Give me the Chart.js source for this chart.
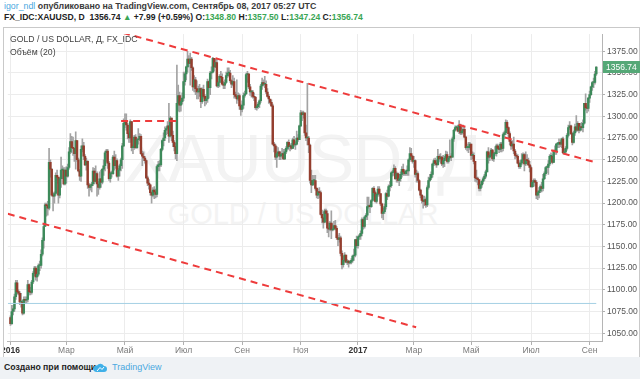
<!DOCTYPE html>
<html><head><meta charset="utf-8">
<script src="https://cdn.jsdelivr.net/npm/chart.js@4.4.1/dist/chart.umd.min.js"></script>
<style>
html,body{margin:0;padding:0;}
body{width:640px;height:379px;position:relative;overflow:hidden;background:#fff;font-family:'Liberation Sans',Arial,sans-serif;}
.hdr1{position:absolute;left:4px;top:1px;font-size:8.8px;line-height:10px;color:#3a3a3a;white-space:nowrap;font-weight:bold;}
.hdr1 .user{color:#4aa8e0;font-weight:normal;}
.hdr2{position:absolute;left:4px;top:12px;font-size:8.6px;line-height:10px;color:#222;font-weight:bold;white-space:nowrap;}
.g{color:#3aa655;}
#frame{position:absolute;left:3px;top:27px;width:635px;height:329px;border:1px solid #c9c9c9;background:#fff;}
.wm{position:absolute;left:4px;width:598px;text-align:center;color:#f3f3f3;white-space:nowrap;}
.wm1{top:118px;font-size:68px;line-height:80px;letter-spacing:-1px;}
.wm2{top:196px;font-size:29px;line-height:36px;}
#clip{position:absolute;left:4px;top:27px;width:636px;height:330px;overflow:hidden;}
#cv{position:absolute;left:-4px;top:0;}
.leg{position:absolute;left:10px;font-size:8.7px;color:#444;white-space:nowrap;}
.footer{position:absolute;left:0;top:357px;width:640px;height:22px;background:#eff2f5;}
.ft1{position:absolute;left:4px;top:5px;font-size:8.7px;font-weight:bold;color:#222;}
.ft2{position:absolute;left:112px;top:5px;font-size:9px;color:#4aa8e0;}
.logo{position:absolute;left:93px;top:5px;}
</style></head>
<body>
<div class="hdr1"><span class="user">igor_ndl</span> опубликовано на TradingView.com, Сентябрь 08, 2017 05:27 UTC</div>
<div class="hdr2">FX_IDC:XAUUSD, D&nbsp; 1356.74 <span class="g">▲</span> +7.99 (+0.59%) O:<span class="g">1348.80</span> H:<span class="g">1357.50</span> L:<span class="g">1347.24</span> C:<span class="g">1356.74</span></div>
<div id="frame"></div>
<div class="wm wm1">XAUUSD, Д</div>
<div class="wm wm2">GOLD / US DOLLAR</div>
<div id="clip"><canvas id="cv" width="640" height="330"></canvas></div>
<div class="leg" style="top:34px">GOLD / US DOLLAR, Д, FX_IDC</div>
<div class="leg" style="top:47px">Объём (20)</div>
<div class="footer">
  <div class="ft1">Создано при помощи</div>
  <svg class="logo" width="14" height="11" viewBox="0 0 14 11"><path d="M3 10 H11 A3 3 0 0 0 11 4 A4 4 0 0 0 4 3.5 A3.2 3.2 0 0 0 3 10 Z" fill="#3fb0e8"/><path d="M4 9 L7 5.5 L9 7.5 L11 5" stroke="#fff" stroke-width="1" fill="none"/></svg>
  <div class="ft2">TradingView</div>
</div>
<script>
// ---- data: XAUUSD daily, index 0 = 1 Jan 2016, weekdays only ----
const firstOpen = 1068;
const closes = [
// 2016 Jan
1061,1075,1078,1092,1108,1098,1096,1086,1086,1073,1089,1088,1089,1106,1098,1097,1109,1119,1125,1115,1118,
// Feb
1128,1128,1141,1157,1173,1198,1197,1194,1247,1239,1209,1208,1211,1232,1230,1209,1228,1238,1238,1222,1238,
// Mar
1231,1241,1259,1271,1264,1263,1257,1272,1250,1237,1231,1262,1266,1254,1244,1248,1221,1218,1220,1222,1237,1225,1234,
// Apr
1222,1218,1228,1224,1239,1243,1258,1260,1246,1228,1234,1234,1253,1243,1249,1231,1238,1243,1250,1266,1292,
// May
1295,1290,1280,1275,1294,1264,1264,1276,1264,1273,1274,1277,1257,1254,1252,1249,1229,1223,1221,1212,1209,1215,
// Jun
1213,1210,1242,1244,1244,1262,1272,1275,1284,1286,1289,1277,1298,1278,1270,1265,1257,1315,1324,1313,1317,1321,
// Jul
1340,1349,1357,1366,1361,1366,1356,1334,1342,1332,1328,1328,1332,1317,1331,1323,1318,1320,1340,1333,1350,
// Aug
1351,1367,1357,1362,1335,1339,1346,1345,1337,1336,1339,1347,1350,1350,1341,1337,1340,1325,1323,1320,1324,1312,1308,
// Sep
1313,1324,1326,1348,1349,1334,1328,1328,1323,1322,1310,1311,1314,1318,1335,1339,1337,1337,1328,1323,1320,1316,
// Oct
1312,1268,1266,1253,1257,1259,1254,1256,1257,1251,1259,1263,1270,1265,1266,1263,1273,1267,1268,1275,1273,
// Nov
1289,1304,1302,1304,1281,1275,1275,1267,1226,1221,1226,1226,1217,1209,1213,1212,1187,1183,1178,1191,1188,1171,
// Dec
1170,1177,1169,1170,1174,1171,1160,1158,1160,1142,1129,1134,1140,1132,1133,1131,1132,1134,1139,1140,1158,1151,
// 2017 Jan
1161,1162,1165,1181,1173,1184,1186,1196,1197,1196,1203,1217,1212,1202,1210,1216,1211,1199,1188,1190,1196,1211,
// Feb
1208,1219,1220,1235,1236,1240,1228,1234,1226,1228,1233,1239,1236,1234,1237,1237,1250,1257,1254,1248,
// Mar
1249,1233,1234,1226,1215,1209,1203,1202,1204,1198,1218,1226,1229,1233,1245,1249,1246,1244,1254,1251,1253,1245,1249,
// Apr
1252,1256,1248,1252,1254,1253,1274,1284,1287,1287,1283,1290,1281,1283,1285,1276,1264,1264,1264,1268,
// May
1255,1255,1248,1229,1228,1227,1217,1221,1225,1228,1231,1236,1259,1253,1255,1261,1251,1257,1257,1266,1263,1262,1268,
// Jun
1263,1279,1281,1293,1287,1280,1271,1266,1268,1260,1255,1254,1246,1242,1246,1250,1256,1245,1250,1249,1244,1241,
// Jul
1219,1224,1226,1224,1209,1212,1214,1219,1217,1228,1234,1241,1241,1245,1254,1254,1247,1260,1260,1268,1268,
// Aug
1270,1268,1274,1258,1259,1263,1278,1287,1289,1280,1270,1281,1288,1284,1292,1284,1288,1287,1292,1315,1310,1309,1321,
// Sep
1325,1334,1339,1339,1348.8,1356.74
];
const highs = [
1070,1082,1082,1095,1111,1111,1100,1098,1096,1088,1092,1092,1092,1111,1107,1103,1111,1121,1127,1127,1124,
1130,1133,1146,1160,1176,1200,1200,1202,1263,1250,1240,1212,1213,1235,1238,1228,1229,1253,1243,1241,1241,
1242,1245,1264,1280,1277,1276,1261,1282,1272,1252,1239,1266,1274,1270,1256,1252,1249,1223,1222,1224,1241,1240,1243,
1236,1225,1236,1238,1240,1250,1260,1262,1262,1248,1236,1237,1255,1260,1256,1251,1240,1245,1252,1269,1297,
1303,1303,1292,1282,1296,1294,1267,1278,1279,1275,1286,1280,1279,1260,1259,1254,1250,1231,1227,1222,1213,1218,
1219,1216,1244,1248,1249,1263,1273,1281,1288,1288,1294,1315,1300,1298,1283,1272,1269,1359,1336,1328,1324,1327,
1351,1351,1358,1375,1370,1373,1368,1357,1347,1345,1341,1335,1337,1333,1333,1336,1325,1323,1343,1341,1352,
1357,1368,1367,1366,1367,1340,1348,1352,1349,1340,1342,1351,1356,1356,1353,1342,1347,1344,1328,1342,1327,1326,1314,
1318,1327,1329,1350,1352,1346,1337,1330,1330,1327,1323,1313,1316,1319,1337,1344,1342,1346,1341,1332,1325,1318,
1319,1314,1270,1268,1265,1264,1260,1259,1263,1262,1262,1265,1271,1273,1268,1269,1275,1277,1271,1283,1279,
1290,1307,1306,1306,1299,1290,1338,1277,1268,1238,1232,1232,1232,1218,1216,1218,1214,1192,1190,1193,1193,1191,
1177,1179,1191,1176,1179,1180,1173,1163,1165,1162,1145,1139,1143,1140,1135,1134,1133,1136,1140,1147,1158,1162,
1162,1164,1168,1183,1182,1185,1188,1207,1207,1199,1204,1218,1219,1214,1211,1219,1219,1211,1200,1194,1199,1212,
1215,1221,1225,1236,1238,1244,1242,1236,1235,1233,1236,1242,1245,1238,1238,1243,1251,1264,1263,1255,
1254,1250,1238,1236,1227,1216,1210,1208,1208,1206,1220,1230,1233,1236,1246,1251,1252,1250,1262,1256,1257,1254,1255,
1254,1260,1259,1254,1273,1257,1276,1285,1289,1289,1290,1295,1291,1287,1290,1288,1277,1268,1270,1270,
1268,1259,1258,1238,1238,1230,1227,1222,1226,1230,1233,1238,1260,1264,1257,1263,1262,1259,1265,1268,1268,1264,1270,
1270,1281,1283,1296,1295,1288,1282,1273,1272,1276,1262,1257,1256,1249,1249,1257,1258,1257,1259,1256,1252,1248,
1243,1226,1228,1228,1226,1214,1218,1221,1224,1233,1236,1242,1243,1249,1256,1258,1256,1261,1266,1269,1270,
1274,1272,1275,1276,1262,1265,1280,1290,1294,1290,1281,1283,1291,1301,1294,1292,1292,1293,1296,1315,1326,1313,1322,
1329,1335,1340,1344,1352,1357.5
];
const lows = [
1059,1060,1071,1075,1089,1095,1094,1083,1080,1071,1072,1085,1084,1086,1094,1094,1095,1107,1116,1111,1110,
1116,1122,1125,1139,1148,1173,1185,1186,1192,1230,1208,1191,1200,1209,1223,1200,1206,1218,1228,1221,1221,
1223,1230,1239,1257,1258,1255,1248,1239,1248,1236,1226,1225,1259,1250,1243,1238,1217,1208,1215,1213,1220,1222,1224,
1208,1210,1216,1218,1222,1232,1237,1248,1240,1226,1224,1230,1233,1238,1240,1230,1226,1231,1237,1240,1265,
1287,1284,1274,1270,1270,1260,1257,1262,1263,1263,1268,1272,1256,1243,1249,1246,1228,1220,1216,1209,1200,1207,
1205,1206,1207,1237,1237,1242,1260,1266,1272,1279,1280,1270,1276,1272,1265,1260,1251,1249,1306,1305,1306,1314,
1318,1336,1342,1351,1357,1336,1353,1330,1328,1325,1320,1320,1323,1310,1315,1321,1312,1314,1316,1321,1325,
1343,1350,1352,1356,1334,1333,1334,1339,1336,1332,1332,1338,1345,1346,1339,1333,1335,1321,1321,1315,1318,1308,1301,
1305,1309,1322,1325,1339,1332,1324,1322,1321,1318,1308,1307,1309,1310,1316,1331,1335,1333,1326,1322,1315,1314,
1311,1267,1259,1250,1241,1255,1250,1250,1252,1250,1250,1257,1261,1262,1260,1262,1263,1265,1262,1267,1271,
1273,1288,1295,1298,1278,1272,1267,1258,1223,1212,1220,1222,1215,1206,1205,1206,1186,1177,1171,1177,1182,1166,
1161,1168,1159,1168,1169,1169,1158,1151,1155,1139,1124,1126,1132,1131,1129,1126,1130,1130,1132,1134,1138,1149,
1148,1158,1158,1162,1170,1171,1181,1181,1194,1189,1195,1202,1208,1201,1200,1208,1208,1197,1183,1181,1188,1193,
1204,1207,1214,1218,1231,1232,1227,1224,1224,1220,1225,1230,1232,1232,1232,1232,1232,1248,1250,1246,
1241,1230,1224,1224,1214,1206,1200,1194,1197,1195,1196,1216,1225,1227,1230,1243,1244,1241,1245,1248,1246,1243,1241,
1242,1250,1246,1246,1250,1249,1253,1271,1283,1285,1282,1280,1279,1279,1280,1275,1262,1260,1258,1262,
1250,1251,1245,1225,1224,1221,1214,1214,1218,1222,1226,1229,1236,1246,1249,1253,1249,1248,1255,1254,1262,1258,1259,
1259,1260,1274,1279,1284,1275,1267,1262,1263,1257,1251,1252,1245,1240,1240,1244,1249,1237,1243,1246,1243,1236,
1218,1218,1219,1220,1205,1204,1206,1212,1213,1214,1227,1232,1235,1233,1243,1250,1245,1247,1256,1256,1264,
1264,1265,1264,1257,1256,1257,1261,1276,1285,1279,1267,1269,1278,1282,1283,1281,1283,1284,1282,1291,1307,1304,1306,
1316,1324,1330,1333,1337,1347.24
];
if (closes.length !== 441 || highs.length !== 441 || lows.length !== 441) {
  throw new Error('length mismatch ' + closes.length + ' ' + highs.length + ' ' + lows.length);
}
const xTickIdx = [0,42,86,130,174,218,261,303,346,391,435];
const xTickLabels = ['2016','Мар','Май','Июл','Сен','Ноя','2017','Мар','Май','Июл','Сен'];
const yTicks = [1050,1075,1100,1125,1150,1175,1200,1225,1250,1275,1300,1325,1350,1375];
// drawn lines (bar index, price)
const upperTrend = [{x:84.5,y:1396.2},{x:437.5,y:1247.8}];
const lowerTrend = [{x:-2,y:1187.6},{x:304.7,y:1056.8}];
const mayLevel = [{x:83.1,y:1294.5},{x:127.8,y:1294.5}];
const blueLevel = [{x:-2,y:1084.3},{x:440,y:1084.3}];

const opens = closes.map((c,i)=> i===0 ? firstOpen : closes[i-1]);
const UP = '#3d8a5a', DOWN = '#943e2e';

const lastPricePlugin = {
  id: 'lastPrice',
  afterDraw(chart) {
    const ctx = chart.ctx, ys = chart.scales.y;
    const last = closes[closes.length-1];
    const y = ys.getPixelForValue(last);
    ctx.save();
    ctx.fillStyle = '#55a877';
    ctx.fillRect(603, Math.round(y)-6, 37, 12);
    ctx.fillStyle = '#fff';
    ctx.font = '8.5px "Liberation Sans", Arial, sans-serif';
    ctx.textAlign = 'left';
    ctx.textBaseline = 'middle';
    ctx.fillText(last.toFixed(2), 606, Math.round(y)+0.5);
    ctx.restore();
  }
};

const lineDs = (data, color, dash, width) => ({
  type: 'line', data, borderColor: color, borderWidth: width, borderDash: dash,
  pointRadius: 0, fill: false, tension: 0, order: 0
});

new Chart(document.getElementById('cv'), {
  type: 'bar',
  data: {
    datasets: [
      lineDs(blueLevel, '#a4d0e4', [], 1),
      lineDs(upperTrend, '#ee3b3b', [7,5], 2),
      lineDs(lowerTrend, '#ee3b3b', [7,5], 2),
      lineDs(mayLevel, '#ee3b3b', [7,5], 2),
      {
        type: 'bar', order: 3, grouped: false,
        data: closes.map((c,i)=>({x:i, y:[lows[i], highs[i]]})),
        backgroundColor: '#a3a3a3', barThickness: 1
      },
      {
        type: 'bar', order: 2, grouped: false,
        data: closes.map((c,i)=>({x:i, y:[opens[i], c]})),
        backgroundColor: (ctx) => closes[ctx.dataIndex] >= opens[ctx.dataIndex] ? UP : DOWN,
        barThickness: 1.8, minBarLength: 1
      }
    ]
  },
  options: {
    responsive: false, animation: false, events: [],
    devicePixelRatio: 1,
    layout: { padding: { left: 4, top: 1, right: 0, bottom: 0 } },
    plugins: { legend: { display: false }, tooltip: { enabled: false } },
    scales: {
      x: {
        type: 'linear', min: -2, max: 444.3, offset: false,
        grid: { color: '#ececec', offset: false, tickLength: 4, tickColor: '#b0b0b0' },
        border: { display: true, color: '#b5b5b5' },
        afterBuildTicks: (s) => { s.ticks = xTickIdx.map(v => ({ value: v })); },
        afterFit: (s) => { s.height = 16; },
        ticks: {
          autoSkip: false, maxRotation: 0, padding: 1,
          color: (c) => (c.index === 0 || c.index === 6) ? '#333' : '#7a7a7a',
          font: (c) => ({ family: '"Liberation Sans", Arial, sans-serif', size: 8.5, weight: (c.index === 0 || c.index === 6) ? 'bold' : 'normal' }),
          callback: (v, i) => xTickLabels[i]
        }
      },
      y: {
        type: 'linear', position: 'right', min: 1041, max: 1394.8,
        grid: { color: '#ececec', tickLength: 3, tickColor: '#b0b0b0' },
        border: { display: true, color: '#b5b5b5' },
        afterBuildTicks: (s) => { s.ticks = yTicks.map(v => ({ value: v })); },
        afterFit: (s) => { s.width = 38; },
        ticks: {
          padding: 2, color: '#555',
          font: { family: '"Liberation Sans", Arial, sans-serif', size: 8.5 },
          callback: (v) => Number(v).toFixed(2)
        }
      }
    }
  },
  plugins: [lastPricePlugin]
});
</script>
</body></html>
